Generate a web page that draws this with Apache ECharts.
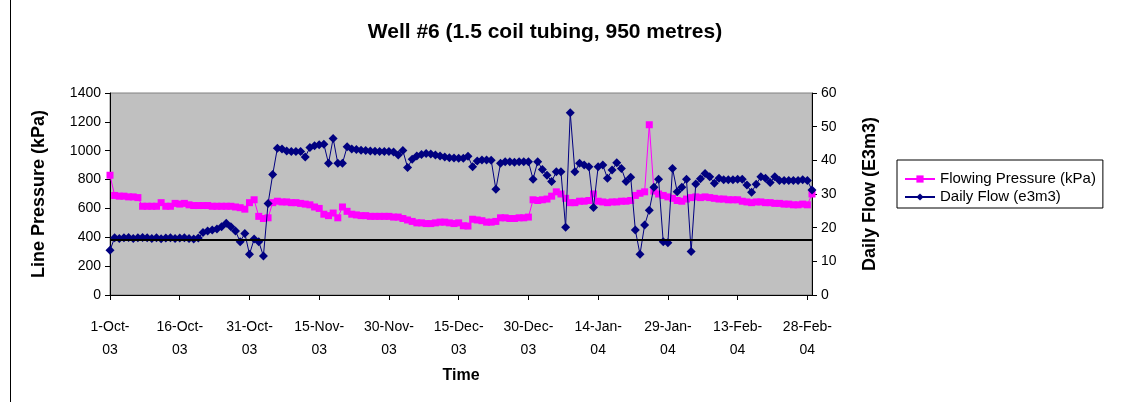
<!DOCTYPE html>
<html>
<head>
<meta charset="utf-8">
<script src="https://cdn.jsdelivr.net/npm/echarts@6/dist/echarts.min.js"></script>
<style>html,body{margin:0;padding:0;background:#fff;}#c{width:1137px;height:402px;}</style>
</head>
<body>
<div id="c"></div>
<script>
// Categories: daily dates 1-Oct-03 .. 29-Feb-04
var monthNames = ['Jan','Feb','Mar','Apr','May','Jun','Jul','Aug','Sep','Oct','Nov','Dec'];
var categories = [];
(function(){
  var d = new Date(2003, 9, 1);
  for (var i = 0; i < 152; i++) {
    var yy = String(d.getFullYear()).slice(2);
    categories.push(d.getDate() + '-' + monthNames[d.getMonth()] + '-' + yy);
    d.setDate(d.getDate() + 1);
  }
})();

var pressureTicks = [0,200,400,600,800,1000,1200,1400];
var flowTicks = [0,10,20,30,40,50,60];
var referenceLine = 380;

var flowingPressure = [
  830,
  690,685,685,680,680,675,
  615,615,615,615,
  640,
  615,615,
  635,630,635,
  625,620,620,620,620,615,615,615,615,615,610,
  605,595,
  640,660,
  545,530,535,
  640,
  650,645,645,640,640,635,630,625,
  610,600,
  560,550,568,
  535,610,580,560,
  555,550,550,545,545,545,545,545,
  540,540,530,520,510,
  500,500,495,495,500,505,505,500,495,500,
  480,478,
  525,
  520,515,
  505,505,510,
  535,535,530,530,535,535,540,
  660,655,660,665,
  685,715,700,670,
  640,640,650,650,655,
  700,
  650,645,640,645,645,650,650,655,
  690,705,715,1180,720,
  700,690,680,
  670,655,650,665,675,
  680,675,680,675,670,665,665,660,660,660,
  650,645,640,645,645,640,640,635,635,630,
  630,625,625,630,625,
  700
];

var dailyFlow = [
  13.3,
  17.0,16.8,17.0,17.1,16.8,17.0,17.1,17.0,16.8,17.0,16.7,16.9,17.0,16.8,16.9,17.0,16.8,16.6,16.9,
  18.6,19.0,19.3,19.6,20.3,
  21.3,20.3,19.0,15.8,18.3,12.1,16.6,15.8,11.6,27.2,35.8,43.6,
  43.4,42.8,42.6,42.6,42.6,
  41.0,
  43.8,44.3,44.6,44.8,
  39.1,46.5,39.1,39.1,44.0,
  43.4,43.2,43.0,42.9,42.8,42.7,42.6,42.6,42.6,42.5,
  41.6,42.9,37.9,40.3,
  41.3,41.7,42.0,41.9,41.6,41.3,
  41.0,40.8,40.7,40.6,40.6,
  41.2,38.1,
  39.8,40.1,40.1,40.0,
  31.4,39.1,
  39.6,39.6,39.4,39.6,39.6,39.6,
  34.4,39.6,37.3,35.6,33.7,36.6,36.6,20.1,54.1,36.6,
  39.1,38.6,38.1,26.0,38.1,38.6,34.7,37.1,39.3,37.6,33.7,35.0,19.3,12.1,20.8,25.2,32.0,34.4,15.8,15.5,37.6,30.7,32.0,34.4,12.9,
  33.0,34.5,36.1,35.1,33.2,34.7,
  34.2,34.2,34.2,34.4,34.4,
  32.7,30.5,32.9,35.1,34.7,33.4,35.1,
  34.0,34.0,34.0,34.0,34.0,34.2,34.0,
  31.2
];

var FONT = 'Liberation Sans, Arial, sans-serif';
var chart = echarts.init(document.getElementById('c'));
chart.setOption({
  backgroundColor: '#ffffff',
  animation: false,
  title: {
    text: 'Well #6 (1.5 coil tubing, 950 metres)',
    left: 540, top: 17, textAlign: 'center',
    textStyle: {fontFamily: FONT, fontSize: 21, fontWeight: 'bold', color: '#000'}
  },
  legend: {
    orient: 'vertical',
    left: 897, top: 160,
    borderColor: '#000', borderWidth: 1,
    padding: [10, 7, 2, 7],
    itemGap: 0,
    itemWidth: 30, itemHeight: 9,
    textStyle: {fontFamily: FONT, fontSize: 15, color: '#000', lineHeight: 18},
    data: ['Flowing Pressure (kPa)', 'Daily Flow (e3m3)']
  },
  grid: {left: 110, right: 325, top: 93, bottom: 107, show: true, backgroundColor: '#c0c0c0', borderColor: '#808080', borderWidth: 1},
  xAxis: {
    type: 'category',
    data: categories,
    boundaryGap: false,
    name: 'Time',
    nameLocation: 'middle',
    nameGap: 73,
    nameTextStyle: {fontFamily: FONT, fontSize: 16, fontWeight: 'bold', color: '#000'},
    axisLine: {lineStyle: {color: '#000', width: 1}},
    axisTick: {interval: 14, length: 5, lineStyle: {color: '#000'}},
    axisLabel: {
      interval: 14, margin: 21, color: '#000', fontFamily: FONT, fontSize: 14, lineHeight: 23,
      formatter: function (v) { var k = v.lastIndexOf('-'); return v.slice(0, k + 1) + '\n' + v.slice(k + 1); }
    },
    splitLine: {show: false}
  },
  yAxis: [{
    type: 'value', min: 0, max: 1400, interval: 200,
    name: 'Line Pressure (kPa)', nameLocation: 'middle', nameGap: 62,
    nameTextStyle: {fontFamily: FONT, fontSize: 18, fontWeight: 'bold', color: '#000'},
    axisLine: {show: true, lineStyle: {color: '#000'}},
    axisTick: {show: true, length: 5, lineStyle: {color: '#000'}},
    axisLabel: {color: '#000', fontFamily: FONT, fontSize: 14, margin: 9, formatter: function (v) { return String(v); }},
    splitLine: {show: false}
  }, {
    type: 'value', min: 0, max: 60, interval: 10,
    name: 'Daily Flow (E3m3)', nameLocation: 'middle', nameGap: 49,
    nameTextStyle: {fontFamily: FONT, fontSize: 18, fontWeight: 'bold', color: '#000'},
    axisLine: {show: true, lineStyle: {color: '#000'}},
    axisTick: {show: true, length: 5, lineStyle: {color: '#000'}},
    axisLabel: {color: '#000', fontFamily: FONT, fontSize: 14, margin: 9, formatter: function (v) { return String(v); }},
    splitLine: {show: false}
  }],
  series: [{
    name: 'Flowing Pressure (kPa)',
    type: 'line',
    yAxisIndex: 0,
    data: flowingPressure,
    symbol: 'rect', symbolSize: 7,
    showAllSymbol: true,
    itemStyle: {color: '#ff00ff'},
    lineStyle: {color: '#ff00ff', width: 1},
    markLine: {
      silent: true, symbol: 'none', label: {show: false},
      lineStyle: {color: '#000', width: 2, type: 'solid'},
      data: [{yAxis: referenceLine}]
    },
    z: 2
  }, {
    name: 'Daily Flow (e3m3)',
    type: 'line',
    yAxisIndex: 1,
    data: dailyFlow,
    symbol: 'diamond', symbolSize: 9,
    showAllSymbol: true,
    itemStyle: {color: '#000080'},
    lineStyle: {color: '#000080', width: 1},
    z: 3
  }],
  graphic: [{
    type: 'line', shape: {x1: 10.5, y1: 0, x2: 10.5, y2: 402},
    style: {stroke: '#000', lineWidth: 1}
  }]
});
</script>
</body>
</html>
